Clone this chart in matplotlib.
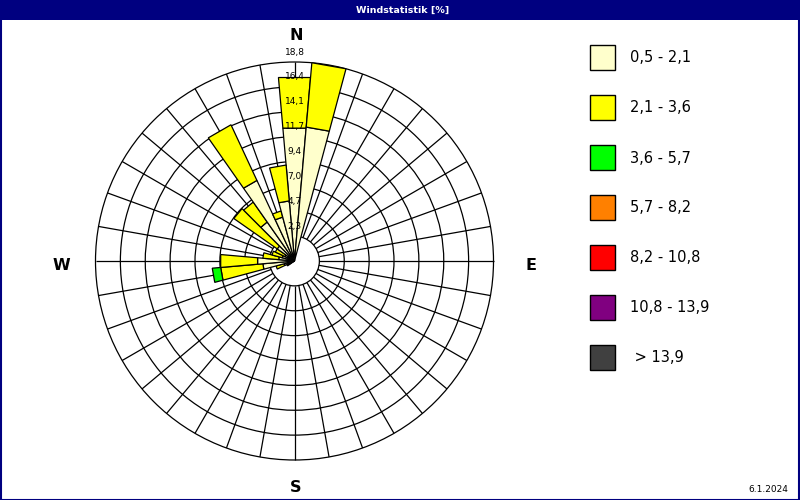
import numpy as np
import matplotlib
matplotlib.use("Agg")
import matplotlib.pyplot as plt
from matplotlib.patches import Polygon, Circle, Rectangle

# ---------------- data ----------------
directions = [0, 10, 240, 250, 260, 270, 280, 290, 300, 310, 320, 330, 340, 350]
cls_0_5_2_1 = [12.6, 12.7, 0.5, 1.0, 3.0, 3.5, 1.5, 1.2, 1.0, 2.0, 4.5, 8.4, 4.3, 5.7]
cls_2_1_3_6 = [4.8, 6.1, 0.3, 0.8, 4.0, 3.5, 1.5, 1.0, 1.0, 5.0, 2.3, 5.8, 0.6, 3.4]
cls_3_6_5_7 = [0.0, 0.0, 0.0, 0.0, 0.8, 0.0, 0.0, 0.0, 0.0, 0.0, 0.0, 0.0, 0.0, 0.0]
series = [cls_0_5_2_1, cls_2_1_3_6, cls_3_6_5_7]

legend_labels = ["0,5 - 2,1", "2,1 - 3,6", "3,6 - 5,7", "5,7 - 8,2",
                 "8,2 - 10,8", "10,8 - 13,9", " > 13,9"]
legend_colors = ["#FFFFCC", "#FFFF00", "#00FF00", "#FF8000",
                 "#FF0000", "#800080", "#404040"]
ring_labels = ["2,3", "4,7", "7,0", "9,4", "11,7", "14,1", "16,4", "18,8"]
rmax = 18.8
title = "Windstatistik [%]"
date_text = "6.1.2024"

# ---------------- figure ----------------
W, H = 800, 500
fig = plt.figure(figsize=(8, 5), dpi=100)
fig.patch.set_facecolor("white")

def fx(x):
    return x / W

def fy(y):
    return 1 - y / H

# axes: center pixel (294.5, 261), radius 199 px -> rmax
cx, cy, rpx = 294.5, 261.0, 199.0
half = 215.0
ax = fig.add_axes([fx(cx - half), fy(cy + half), 2 * half / W, 2 * half / H])
lim = rmax * half / rpx
ax.set_xlim(-lim, lim)
ax.set_ylim(-lim, lim)
ax.axis("off")

step = rmax / 8
lw = 0.9
# grid rings
for k in range(1, 9):
    ax.add_patch(Circle((0, 0), step * k, fill=False, ec="black", lw=lw, zorder=1))
# spokes every 10 degrees
for b in range(0, 360, 10):
    a = np.deg2rad(90 - b)
    ax.plot([step * np.cos(a), rmax * np.cos(a)], [step * np.sin(a), rmax * np.sin(a)],
            color="black", lw=lw, zorder=1, solid_capstyle="butt")

# bars (stacked sectors, 10 degrees wide, straight outer edges)
half_w = 5.0
for i, d in enumerate(directions):
    base = 0.0
    for s, vals in enumerate(series):
        v = vals[i]
        if v <= 0:
            continue
        top = base + v
        a1 = np.deg2rad(90 - (d - half_w))
        a2 = np.deg2rad(90 - (d + half_w))
        pts = [(base * np.cos(a1), base * np.sin(a1)),
               (top * np.cos(a1), top * np.sin(a1)),
               (top * np.cos(a2), top * np.sin(a2)),
               (base * np.cos(a2), base * np.sin(a2))]
        ax.add_patch(Polygon(pts, closed=True, fc=legend_colors[s], ec="black",
                             lw=lw, zorder=2, joinstyle="miter"))
        base = top

# ring labels along north
off = 10.0 * rmax / rpx
for k, lab in enumerate(ring_labels, start=1):
    ax.text(0, step * k + off, lab, ha="center", va="center", fontsize=6.5,
            color="black", zorder=3, family="DejaVu Sans")

# compass letters
for lab, (x, y) in {"N": (296, 36), "E": (531, 265), "S": (296, 488), "W": (61, 265)}.items():
    fig.text(fx(x), fy(y), lab, ha="center", va="center", fontsize=11.5,
             fontweight="bold", color="black")

# title bar
fig.add_artist(Rectangle((0, fy(20)), 1, 20 / H, transform=fig.transFigure,
                         fc="#000080", ec="none", zorder=0))
fig.text(fx(403), fy(10), title, ha="center", va="center", fontsize=6.8,
         fontweight="bold", color="white")
# frame
fig.add_artist(Rectangle((0.5 / W, 0.5 / H), 1 - 1.5 / W, 1 - 1.5 / H,
                         transform=fig.transFigure, fill=False, ec="#000080",
                         lw=1.5, zorder=5))

# legend
for i, (lab, col) in enumerate(zip(legend_labels, legend_colors)):
    top = 45 + 50 * i
    fig.add_artist(Rectangle((fx(590), fy(top + 25)), 25 / W, 25 / H,
                             transform=fig.transFigure, fc=col, ec="black", lw=1.0))
    fig.text(fx(630), fy(top + 13), lab, ha="left", va="center", fontsize=10.5,
             color="black")

fig.text(fx(768), fy(490), date_text, ha="center", va="center", fontsize=6.5,
         color="black")

fig.savefig("out.png", dpi=100, facecolor="white")
